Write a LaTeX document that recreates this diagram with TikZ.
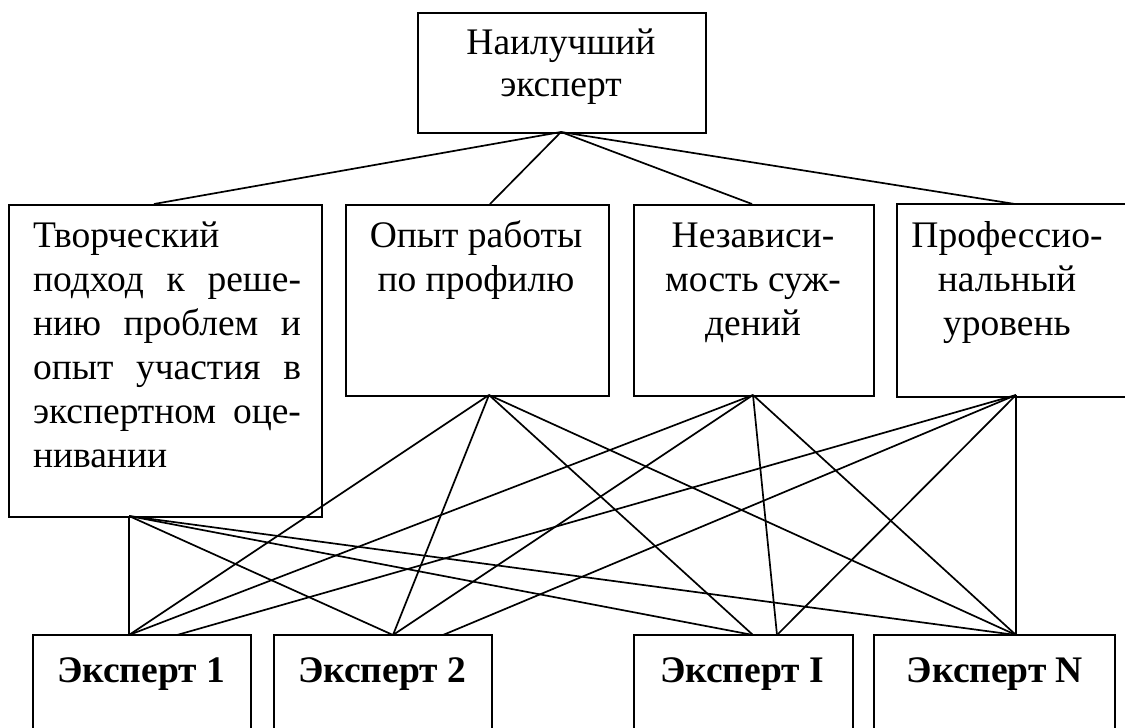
\documentclass[tikz,border=0pt]{standalone}
\usepackage{fontspec}
\setmainfont{Liberation Serif}
\begin{document}
\begin{tikzpicture}[x=1pt,y=-1pt,
  line width=2pt,
  box/.style={draw, rectangle, anchor=north west, inner sep=0pt, line width=2pt},
  openbox/.style={rectangle, anchor=north west, inner sep=0pt},
  txt/.style={inner sep=0pt, font=\fontsize{37.5}{44}\selectfont, align=center, anchor=north},
  toptxt/.style={inner sep=0pt, font=\fontsize{37.5}{42}\selectfont, align=center, anchor=north},
  exptxt/.style={inner sep=0pt, font=\fontsize{37.5}{44}\selectfont\bfseries, anchor=base},
  link/.style={line width=1.7pt}
]
\useasboundingbox (0,0) rectangle (1125,728);
\fill[white] (0,0) rectangle (1125,728);

% boxes
\node[box, minimum width=288pt, minimum height=120pt] (best) at (417,12) {};
\node[box, minimum width=313pt, minimum height=312pt] (c1) at (8,204) {};
\node[box, minimum width=263pt, minimum height=191pt] (c2) at (345,204) {};
\node[box, minimum width=240pt, minimum height=191pt] (c3) at (633,204) {};
\node[openbox, minimum width=230pt, minimum height=191pt] (c4) at (897,204) {};
\draw (c4.north east) -- (c4.north west) -- (c4.south west) -- (c4.south east);

\node[openbox, minimum width=216pt, minimum height=95pt] (e1) at (33,635) {};
\node[openbox, minimum width=216pt, minimum height=95pt] (e2) at (274,635) {};
\node[openbox, minimum width=217pt, minimum height=95pt] (ei) at (634,635) {};
\node[openbox, minimum width=239pt, minimum height=95pt] (en) at (874,635) {};
\foreach \e in {e1,e2,ei,en}
  \draw (\e.south west) -- (\e.north west) -- (\e.north east) -- (\e.south east);

% texts
\node[toptxt] (tbest) at (561,24) {\strut Наилучший\\эксперт};
\node[inner sep=0pt, font=\fontsize{37.5}{44}\selectfont, align=left, anchor=north west] (tc1) at (32,216)
  {\strut Творческий\\
   \makebox[268pt][s]{подход к реше-}\\
   \makebox[268pt][s]{нию проблем и}\\
   \makebox[268pt][s]{опыт участия в}\\
   \makebox[268pt][s]{экспертном оце-}\\
   нивании};
\node[txt] (tc2) at (476,216) {\strut Опыт работы\\по профилю};
\node[txt] (tc3) at (753,216) {\strut Независи-\\мость суж-\\дений};
\node[txt] (tc4) at (1007,216) {\strut Профессио-\\нальный\\уровень};

\node[exptxt] (te1) at (141,682) {Эксперт 1};
\node[exptxt] (te2) at (382,682) {Эксперт 2};
\node[exptxt] (tei) at (742,682) {Эксперт I};
\node[exptxt] (ten) at (995,682) {Эксперт N};

% connection points
\coordinate (bestB) at (561,132);
\coordinate (c1T) at (154,204);
\coordinate (c2T) at (490,204);
\coordinate (c3T) at (752,204);
\coordinate (c4T) at (1015,204);
\coordinate (c1B) at (129,516);
\coordinate (c2B) at (489,395);
\coordinate (c3B) at (753,395);
\coordinate (c4B) at (1016,395);
\coordinate (e1a) at (129,635);
\coordinate (e1b) at (177,635);
\coordinate (e2a) at (393,635);
\coordinate (e2b) at (443,635);
\coordinate (eia) at (753,635);
\coordinate (eib) at (777,635);
\coordinate (ena) at (1016,635);

% top links
\foreach \c in {c1T,c2T,c3T,c4T}
  \draw[link] (bestB) -- (\c);

% lower links
\draw[link] (c1B) -- (e1a);
\draw[link] (c1B) -- (e2a);
\draw[link] (c1B) -- (eia);
\draw[link] (c1B) -- (ena);
\draw[link] (c2B) -- (e1a);
\draw[link] (c2B) -- (e2a);
\draw[link] (c2B) -- (eia);
\draw[link] (c2B) -- (ena);
\draw[link] (c3B) -- (e1a);
\draw[link] (c3B) -- (e2a);
\draw[link] (c3B) -- (eib);
\draw[link] (c3B) -- (ena);
\draw[link] (c4B) -- (e1b);
\draw[link] (c4B) -- (e2b);
\draw[link] (c4B) -- (eib);
\draw[link] (c4B) -- (ena);
\end{tikzpicture}
\end{document}
